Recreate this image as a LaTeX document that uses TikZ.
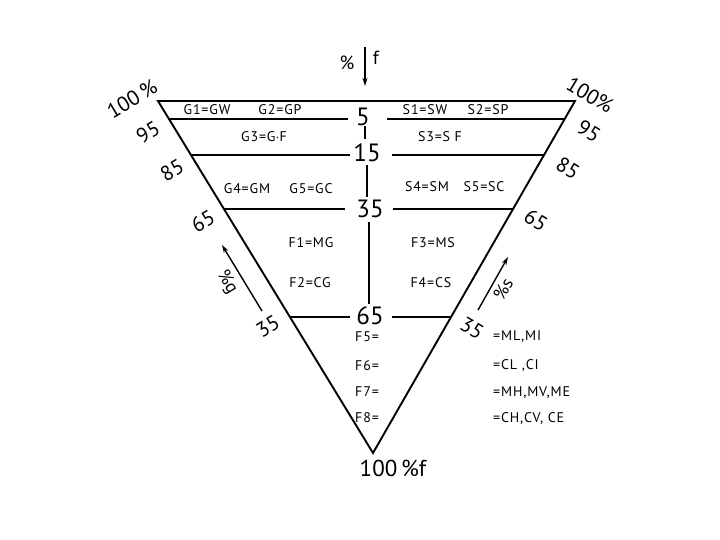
\documentclass[tikz,border=0pt]{standalone}
\usepackage{fontspec}
\setmainfont{PT Sans}
\newfontfamily\lblfont[LetterSpace=6]{PT Sans}
\usetikzlibrary{arrows.meta}
\begin{document}
\begin{tikzpicture}[x=1pt,y=-1pt,
  edge/.style={line width=1.9pt, line join=miter},
  hline/.style={line width=2.2pt},
  vline/.style={line width=1.7pt},
  lbl/.style={font=\lblfont\fontsize{14}{14}\selectfont, inner sep=0pt},
  big/.style={font=\fontsize{25}{25}\selectfont, inner sep=0pt},
  pct/.style={font=\fontsize{21}{21}\selectfont, inner sep=0pt},
  arr/.style={line width=1.4pt, -{Stealth[length=8pt,width=5pt]}}]
\useasboundingbox (0,0) rectangle (720,540);
% triangle
\coordinate (TL) at (158,101);
\coordinate (TR) at (575,101);
\coordinate (B) at (373,453);
\draw[edge] (TL) -- (TR) -- (B) -- cycle;
% centre labels
\node[big] (n5)  at (363,117) {5};
\node[big] (n15) at (367,153) {15};
\node[big] (n35) at (370,209) {35};
\node[big] (n65) at (370,316) {65};
% horizontal lines
\coordinate (a5l) at (168,119);  \coordinate (b5l) at (348,119);
\coordinate (a5r) at (387,119);  \coordinate (b5r) at (565,119);
\coordinate (a15l) at (191,155); \coordinate (b15l) at (350,155);
\coordinate (a15r) at (392,155); \coordinate (b15r) at (544,155);
\coordinate (a35l) at (224,209); \coordinate (b35l) at (345,209);
\coordinate (a35r) at (393,209); \coordinate (b35r) at (513,209);
\coordinate (a65l) at (290,317); \coordinate (b65l) at (350,317);
\coordinate (a65r) at (392,317); \coordinate (b65r) at (451,317);
\draw[hline] (a5l) -- (b5l);   \draw[hline] (a5r) -- (b5r);
\draw[hline] (a15l) -- (b15l); \draw[hline] (a15r) -- (b15r);
\draw[hline] (a35l) -- (b35l); \draw[hline] (a35r) -- (b35r);
\draw[hline] (a65l) -- (b65l); \draw[hline] (a65r) -- (b65r);
% vertical centre line
\coordinate (v1a) at (365,126); \coordinate (v1b) at (365,139);
\coordinate (v2a) at (367,165); \coordinate (v2b) at (367,197);
\coordinate (v3a) at (369,222); \coordinate (v3b) at (369,304);
\draw[vline] (v1a) -- (v1b);
\draw[vline] (v2a) -- (v2b);
\draw[vline] (v3a) -- (v3b);
% group labels
\node[lbl] (g1) at (207,110) {G1=GW};
\node[lbl] (g2) at (280,110) {G2=GP};
\node[lbl] (s1) at (425,110) {S1=SW};
\node[lbl] (s2) at (488,110) {S2=SP};
\node[lbl] (g3) at (264,137) {G3=G$\cdot$F};
\node[lbl] (s3) at (440,137) {S3=S F};
\node[lbl] (g4) at (247,189) {G4=GM};
\node[lbl] (g5) at (311,189) {G5=GC};
\node[lbl] (s4) at (427,187) {S4=SM};
\node[lbl] (s5) at (484,187) {S5=SC};
\node[lbl] (f1) at (311,243) {F1=MG};
\node[lbl] (f2) at (310,283) {F2=CG};
\node[lbl] (f3) at (433,243) {F3=MS};
\node[lbl] (f4) at (431,283) {F4=CS};
\node[lbl,anchor=west] (f5) at (355,337) {F5=};
\node[lbl,anchor=west] (f6) at (355,366) {F6=};
\node[lbl,anchor=west] (f7) at (355,392) {F7=};
\node[lbl,anchor=west] (f8) at (355,418) {F8=};
\node[lbl,anchor=west] (e5) at (493,337) {=ML,MI};
\node[lbl,anchor=west] (e6) at (493,366) {=CL ,CI};
\node[lbl,anchor=west] (e7) at (493,393) {=MH,MV,ME};
\node[lbl,anchor=west] (e8) at (493,419) {=CH,CV, CE};
% bottom label
\node[pct,font=\fontsize{23}{23}\selectfont] (bot) at (393,468) {100\,\%f};
% top arrow
\coordinate (ta) at (365,47);
\coordinate (tb) at (365,86);
\draw[arr] (ta) -- (tb);
\node[pct,font=\fontsize{19}{19}\selectfont] (tp) at (347,63) {\%};
\node[pct,font=\fontsize{19}{19}\selectfont] (tf) at (376,58) {f};
% left scale
\node[pct,rotate=31] (l100) at (132,99) {100\,\%};
\node[pct,rotate=31] (l95) at (148,132) {95};
\node[pct,rotate=31] (l85) at (172,170) {85};
\node[pct,rotate=31] (l65) at (203,221) {65};
\node[pct,rotate=31] (l35) at (268,326) {35};
% right scale
\node[pct,rotate=-31] (r100) at (590,95) {100\%};
\node[pct,rotate=-31] (r95) at (589,131) {95};
\node[pct,rotate=-31] (r85) at (568,168) {85};
\node[pct,rotate=-31] (r65) at (536,220) {65};
\node[pct,rotate=-31] (r35) at (472,328) {35};
% side arrows
\coordinate (ga) at (262,311);
\coordinate (gb) at (222,245);
\draw[arr] (ga) -- (gb);
\node[pct,font=\fontsize{18}{18}\selectfont,rotate=-58.6] (gl) at (227,282) {\%g};
\coordinate (sa) at (478,310);
\coordinate (sb) at (508,257);
\draw[arr] (sa) -- (sb);
\node[pct,font=\fontsize{18}{18}\selectfont,rotate=60] (sl) at (503,289) {\%s};
\end{tikzpicture}
\end{document}
